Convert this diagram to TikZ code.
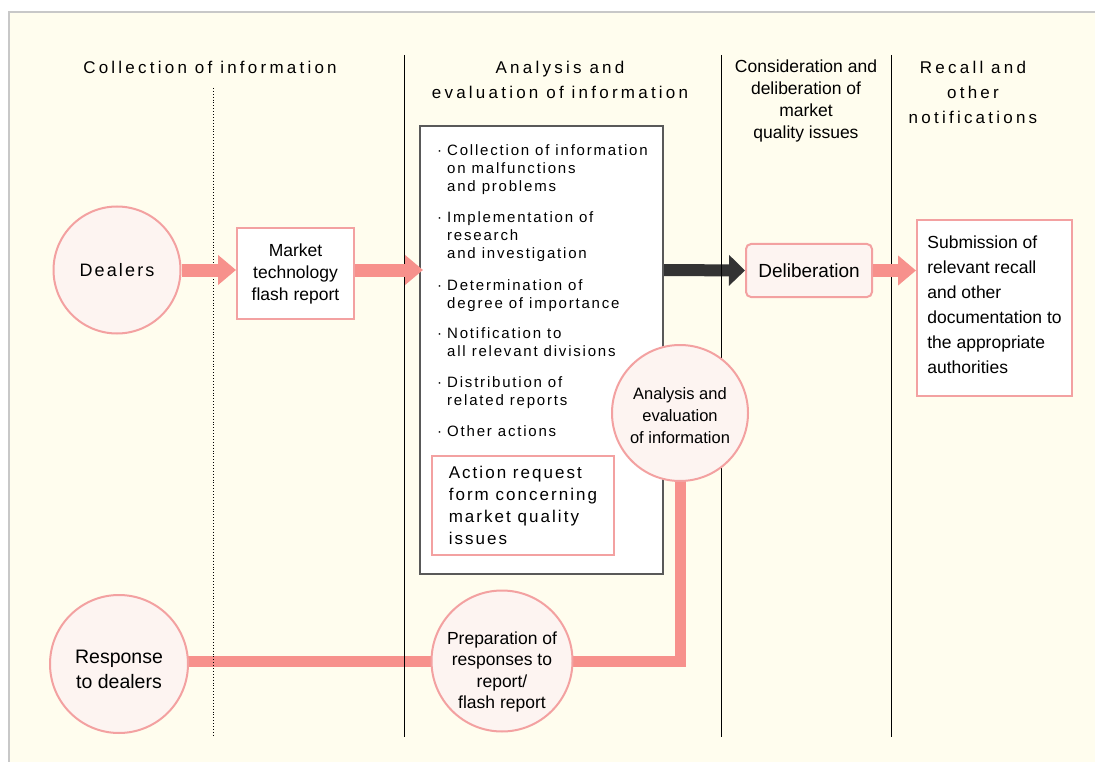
\documentclass[tikz,border=0pt]{standalone}
\usepackage{fontspec}
\setmainfont{Liberation Sans}
\newfontfamily\widefont[LetterSpace=19]{Liberation Sans}
\newfontfamily\medfont[LetterSpace=12]{Liberation Sans}
\usetikzlibrary{arrows.meta}
\definecolor{cream}{HTML}{FFFDEE}
\definecolor{pinkline}{HTML}{F3A1A1}
\definecolor{salmon}{HTML}{F7918C}
\definecolor{pinkfill}{HTML}{FDF4F1}
\definecolor{framegray}{HTML}{C8C8C8}
\definecolor{darkarrow}{HTML}{333333}
\pgfdeclarelayer{back}
\pgfdeclarelayer{conn}
\pgfdeclarelayer{vlines}
\pgfsetlayers{back,conn,vlines,main}
\newcommand\bul{\makebox[10pt][l]{·}}
\newcommand\ind{\hspace*{10pt}}
\begin{document}
\begin{tikzpicture}[x=1pt,y=-1pt,
  circ/.style={circle, draw=pinkline, line width=2pt, fill=pinkfill, inner sep=0pt, align=center},
  ctext/.style={align=center, inner sep=0pt},
  pbox/.style={draw=pinkline, line width=2pt, fill=white, align=center, inner sep=0pt},
  head/.style={align=center, inner sep=0pt, font=\widefont\fontsize{17}{25}\selectfont},
  item/.style={anchor=north west, align=left, inner sep=0pt, font=\medfont\fontsize{15}{18.3}\selectfont},
  parrow/.style={draw=salmon, line width=13pt, -{Triangle[length=18pt,width=29pt]}},
  darrow/.style={draw=darkarrow, line width=12pt, -{Triangle[length=16pt,width=30pt]}},
  pline/.style={draw=salmon, line width=11pt},
  vline/.style={draw=black, line width=1pt},
  dline/.style={draw=black, line width=0.9pt, dotted}
]
\useasboundingbox (0,0) rectangle (1095,762);
\begin{pgfonlayer}{back}
\fill[white] (0,0) rectangle (1095,762);
\fill[cream] (8.5,12.5) rectangle (1095,762);
\draw[draw=framegray, line width=2pt] (8.5,762) -- (8.5,12.5) -- (1095,12.5);
\end{pgfonlayer}

% headings
\node[head] (h1) at (210,67) {Collection of information};
\node[head] (h2) at (560,79.5) {Analysis and\\evaluation of information};
\node[align=center, inner sep=0pt, font=\fontsize{17.5}{21.7}\selectfont] (h3) at (806,101) {Consideration and\\deliberation of\\market\\quality issues};
\node[head] (h4) at (973,92) {Recall and\\other\\notifications};

% nodes
\node[circ, minimum size=127pt, font=\medfont\fontsize{18}{22}\selectfont] (dealers) at (117,270) {Dealers};
\node[pbox, minimum width=117pt, minimum height=91pt, font=\fontsize{17.5}{22}\selectfont] (market) at (295.5,273.5) {Market\\technology\\flash report};
\node[draw=black!65, line width=2pt, fill=white, minimum width=243pt, minimum height=448pt] (big) at (541.5,350) {};

\node[item] (i1) at (437,144) {\bul Collection of information\\\ind on malfunctions\\\ind and problems};
\node[item] (i2) at (437,211) {\bul Implementation of\\\ind research\\\ind and investigation};
\node[item] (i3) at (437,279) {\bul Determination of\\\ind degree of importance};
\node[item] (i4) at (437,327) {\bul Notification to\\\ind all relevant divisions};
\node[item] (i5) at (437,376) {\bul Distribution of\\\ind related reports};
\node[item] (i6) at (437,425) {\bul Other actions};

\node[pbox, minimum width=182pt, minimum height=99pt, align=left, font=\medfont\fontsize{17}{22}\selectfont] (action) at (523,505.5) {\raisebox{-2pt}{Action request}\\\raisebox{-2pt}{form concerning}\\\raisebox{-2pt}{market quality}\\\raisebox{-2pt}{issues}};

\node[pbox, fill=pinkfill, rounded corners=5pt, minimum width=126pt, minimum height=53pt, font=\fontsize{19}{22}\selectfont] (delib) at (809,270.5) {Deliberation};
\node[pbox, minimum width=155pt, minimum height=176pt] (subm) at (994.5,308) {};
\node[align=left, inner sep=0pt, font=\fontsize{17.5}{25}\selectfont] (submt) at ([yshift=3pt]subm.center) {Submission of\\relevant recall\\and other\\documentation to\\the appropriate\\authorities};

\node[circ, minimum size=136pt] (anal) at (680,413) {};
\node[ctext, font=\fontsize{16.5}{22}\selectfont] (analt) at ([yshift=-2.5pt]anal.center) {Analysis and\\evaluation\\of information};
\node[circ, minimum size=141pt] (prep) at (502,661) {};
\node[ctext, font=\fontsize{17.5}{21.3}\selectfont] (prept) at ([yshift=-11pt]prep.center) {Preparation of\\responses to\\report/\\flash report};
\node[circ, minimum size=138pt] (resp) at (119,664) {};
\node[ctext, font=\fontsize{19.5}{25}\selectfont] (respt) at ([yshift=-5.5pt]resp.center) {Response\\to dealers};

% connectors
\begin{pgfonlayer}{conn}
\draw[pline] (anal.center) |- (prep.center);
\draw[pline] (prep.center) -- (resp.center |- prep.center);
\draw[darrow] (big.east |- dealers.east) -- (delib.west);
\end{pgfonlayer}
% vertical separators
\begin{pgfonlayer}{vlines}
\draw[dline] (213,88) -- (213,735);
\draw[vline] (404,55) -- (404,737);
\draw[vline] (721,55) -- (721,737);
\draw[vline] (891,55) -- (891,737);
\end{pgfonlayer}
\draw[parrow] (dealers.east) -- (market.west |- dealers.east);
\draw[parrow] (market.east |- dealers.east) -- ([xshift=4pt]big.west |- dealers.east);
\draw[parrow] (delib.east) -- (subm.west |- delib.east);
\end{tikzpicture}
\end{document}
